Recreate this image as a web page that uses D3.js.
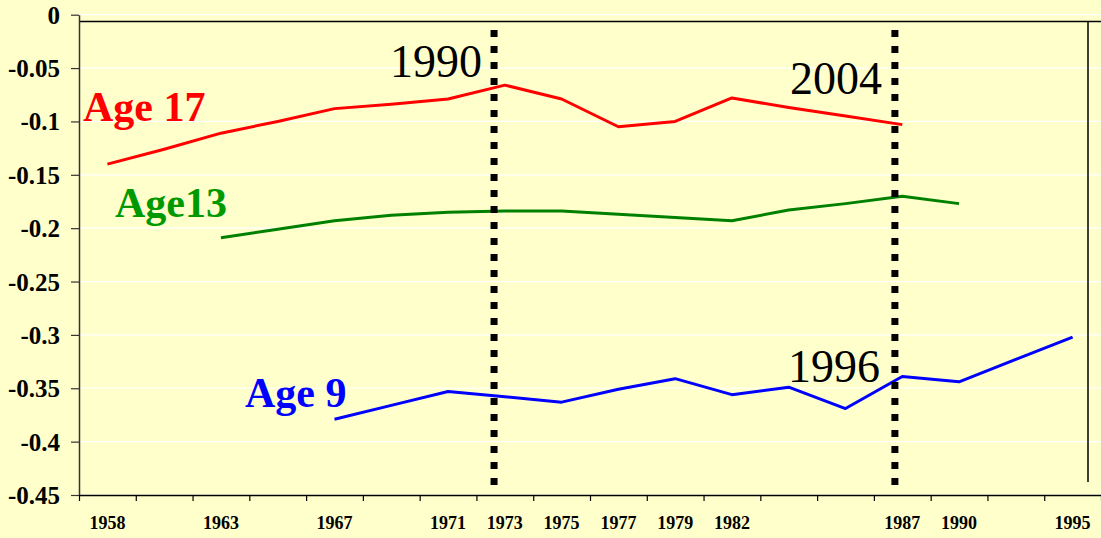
<!DOCTYPE html>
<html>
<head>
<meta charset="utf-8">
<script src="https://cdn.jsdelivr.net/npm/d3@7"></script>
<style>
  html, body { margin: 0; padding: 0; background: #FFFFCC; }
  svg { display: block; }
</style>
</head>
<body>
<svg id="chart" width="1101" height="538"></svg>
<script>
// ---- data ----
const categories = ["1958", "", "1963", "", "1967", "", "1971", "1973", "1975", "1977", "1979", "1982", "", "", "1987", "1990", "", "1995"];
const age17 = [-0.140, -0.126, -0.111, -0.100, -0.088, -0.084, -0.079, -0.066, -0.079, -0.105, -0.100, -0.078, -0.087, -0.095, -0.103, null, null, null];
const age13 = [null, null, -0.209, -0.201, -0.193, -0.188, -0.185, -0.184, -0.184, -0.187, -0.190, -0.193, -0.183, -0.177, -0.170, -0.177, null, null];
const age9  = [null, null, null, null, -0.379, -0.366, -0.353, -0.358, -0.363, -0.351, -0.341, -0.356, -0.349, -0.369, -0.339, -0.344, -0.323, -0.302];
const yTicks = [0, -0.05, -0.1, -0.15, -0.2, -0.25, -0.3, -0.35, -0.4, -0.45];
const yTickLabels = ["0", "-0.05", "-0.1", "-0.15", "-0.2", "-0.25", "-0.3", "-0.35", "-0.4", "-0.45"];
const seriesNames = ["Age 17", "Age13", "Age 9"];
const markerLabels = ["1990", "2004", "1996"];

(function () {
// ---- layout ----
const W = 1101, H = 538;
const mLeft = 79, mRight = 1101, mTop = 14.7, mBottom = 495;
const svg = d3.select("#chart");
const serif = "'Liberation Serif', 'Times New Roman', serif";

svg.append("rect").attr("width", W).attr("height", H).attr("fill", "#FFFFCC");

const idx = d3.range(categories.length);
const x = d3.scaleBand().domain(idx).range([mLeft, mRight]).padding(0);
const xLin = d3.scaleLinear().domain([0, categories.length]).range([mLeft, mRight]);
const y = d3.scaleLinear().domain([-0.45, 0]).range([mBottom, mTop]);
const bw = x.bandwidth();

// gridlines
svg.append("g").selectAll("line").data(yTicks).join("line")
  .attr("x1", mLeft).attr("x2", mRight)
  .attr("y1", d => y(d)).attr("y2", d => y(d))
  .attr("stroke", "#ffffff").attr("stroke-width", 1.2);

// box lines (top and right)
svg.append("line").attr("x1", mLeft).attr("x2", mRight).attr("y1", 21.5).attr("y2", 21.5)
  .attr("stroke", "#000").attr("stroke-width", 1.5);
svg.append("line").attr("x1", 1088).attr("x2", 1088).attr("y1", 21.5).attr("y2", 482)
  .attr("stroke", "#000").attr("stroke-width", 1.5);

// y axis
const yAxis = svg.append("g").attr("transform", `translate(${mLeft},0)`)
  .call(d3.axisLeft(y).tickValues(yTicks).tickFormat((d, i) => yTickLabels[i]).tickSize(8).tickSizeOuter(0).tickPadding(11));
yAxis.select(".domain").attr("stroke", "#333").attr("stroke-width", 1.5);
yAxis.selectAll(".tick line").attr("stroke", "#333").attr("stroke-width", 1.2);
yAxis.selectAll(".tick text")
  .attr("font-family", serif).attr("font-weight", "bold").attr("font-size", 25).attr("fill", "#000")
  .attr("dy", "0.34em");

// x axis: line + boundary ticks
const xTicksG = svg.append("g").attr("transform", `translate(0,${mBottom})`)
  .call(d3.axisBottom(xLin).tickValues(d3.range(0, categories.length + 1)).tickFormat("").tickSize(6).tickSizeOuter(0));
xTicksG.select(".domain").attr("stroke", "#000").attr("stroke-width", 1.5);
xTicksG.selectAll(".tick line").attr("stroke", "#000").attr("stroke-width", 1.2);

// x axis labels (centered in categories)
const xLab = svg.append("g").attr("transform", `translate(0,${mBottom})`)
  .call(d3.axisBottom(x).tickFormat(i => categories[i]).tickSize(0).tickPadding(0));
xLab.select(".domain").remove();
xLab.selectAll(".tick text")
  .attr("font-family", serif).attr("font-weight", "bold").attr("font-size", 18).attr("fill", "#000")
  .attr("y", 34).attr("dy", 0);

// series lines
const seriesData = [age17, age13, age9];
const colors = ["#FF0000", "#008000", "#0000FF"];
const line = d3.line()
  .x(d => x(d.i) + bw / 2)
  .y(d => y(d.v));
seriesData.forEach((arr, k) => {
  const pts = arr.map((v, i) => ({ i, v })).filter(d => d.v !== null);
  svg.append("path").datum(pts)
    .attr("d", line)
    .attr("fill", "none")
    .attr("stroke", colors[k])
    .attr("stroke-width", 3)
    .attr("stroke-linejoin", "round");
});

// dotted marker lines (positions in category units)
const markerPos = [7.31, 14.37];
svg.append("g").selectAll("line").data(markerPos).join("line")
  .attr("x1", d => xLin(d)).attr("x2", d => xLin(d))
  .attr("y1", 30).attr("y2", 489)
  .attr("stroke", "#000").attr("stroke-width", 7)
  .attr("stroke-dasharray", "7,9");

// marker annotations
const markerTextPos = [[482, 77], [882, 94], [880, 382]];
svg.append("g").selectAll("text").data(markerLabels).join("text")
  .attr("x", (d, i) => markerTextPos[i][0]).attr("y", (d, i) => markerTextPos[i][1])
  .attr("text-anchor", "end")
  .attr("font-family", serif).attr("font-size", 46).attr("fill", "#000")
  .text(d => d);

// series labels
const labelPos = [[83, 121], [115, 217], [245, 407]];
const labelColors = ["#FF0000", "#009900", "#0000FF"];
svg.append("g").selectAll("text").data(seriesNames).join("text")
  .attr("x", (d, i) => labelPos[i][0]).attr("y", (d, i) => labelPos[i][1])
  .attr("font-family", serif).attr("font-weight", "bold").attr("font-size", 42)
  .attr("fill", (d, i) => labelColors[i])
  .text(d => d);
})();
</script>
</body>
</html>
